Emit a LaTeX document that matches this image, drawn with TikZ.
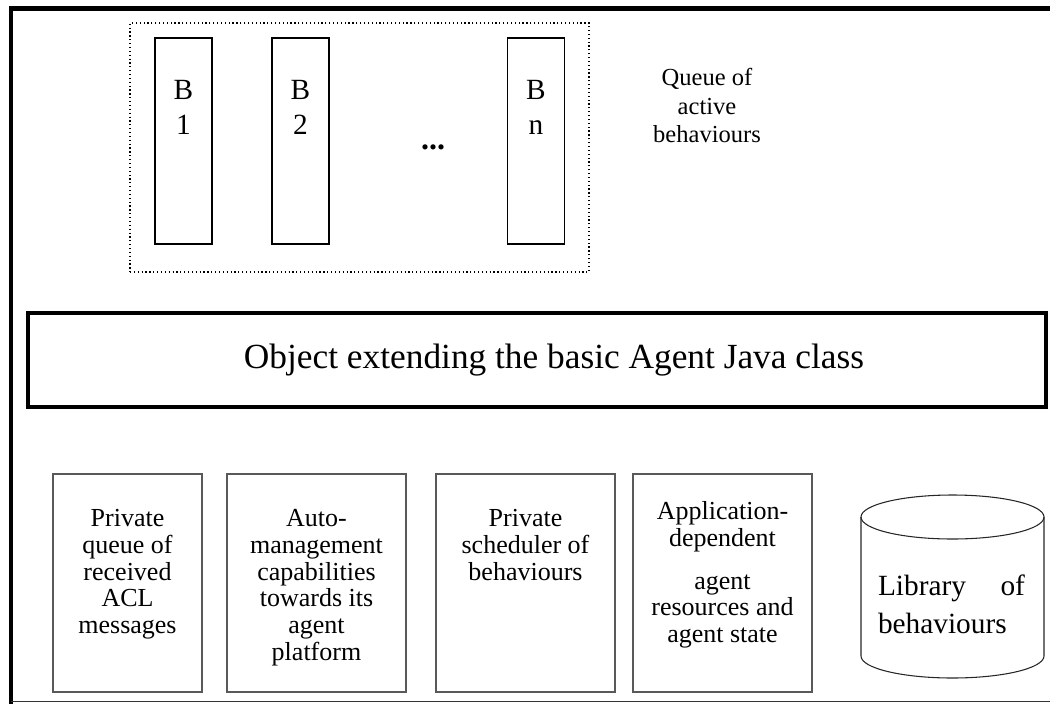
\documentclass[tikz,border=0pt]{standalone}
\usepackage{fontspec}
\setmainfont{Liberation Serif}
\usepackage{xcolor}
\usepackage{tikz}
\usetikzlibrary{positioning, shapes.geometric, calc}

\tikzset{
  behbox/.style={draw, line width=1pt, minimum width=42.75pt, minimum height=154.5pt, inner sep=0pt},
  behtext/.style={align=center, inner sep=0pt, font=\fontsize{22}{26.25}\selectfont},
  partbox/.style={draw=black!65, line width=0.8pt, minimum width=134.25pt, minimum height=163.5pt, inner sep=0pt},
  parttext/.style={align=center, inner sep=0pt, font=\fontsize{19.5}{20}\selectfont},
}

\begin{document}
\begin{tikzpicture}[x=0.75pt, y=-0.75pt]
  \useasboundingbox (0,0) rectangle (1050,704);

  \draw [line width=3.6pt] (1050,8.5) -- (11,8.5) -- (11,704);
  \draw [line width=0.8pt, color=black!80] (11,701.5) -- (1050,701.5);

  \node [draw, dotted, line width=0.9pt, minimum width=344.25pt, minimum height=186.75pt] (queue) at (359.5,147.5) {};
  \node [behbox] (b1) at (183.5,141) {};
  \node [behbox] (b2) at (300.5,141) {};
  \node [behbox] (bn) at (536,141) {};
  \node [behtext, below=32pt of b1.north] (b1text) {B\\1};
  \node [behtext, below=32pt of b2.north] (b2text) {B\\2};
  \node [behtext, below=32pt of bn.north] (bntext) {B\\n};
  \node [inner sep=0pt, font=\fontsize{24}{24}\selectfont] (dots) at (433,147) {\textbf{...}};
  \node [align=center, inner sep=0pt, anchor=north, font=\fontsize{18.4}{21.4}\selectfont] (queuelabel) at (707,68) {Queue of\\active\\behaviours};

  \node [draw, line width=3pt, minimum width=763pt, minimum height=70.5pt] (agent) at (537,360) {};
  \node [inner sep=0pt, font=\fontsize{26.5}{30}\selectfont] (agenttext) at ($(agent.center)+(17,0)$) {Object extending the basic Agent Java class};

  \node [partbox, minimum width=111.75pt] (inbox) at (127.5,583) {};
  \node [partbox] (automgmt) at (316.5,583) {};
  \node [partbox] (sched) at (525.5,583) {};
  \node [partbox] (appres) at (722.5,583) {};
  \node [parttext, below=27pt of inbox.north] (inboxtext) {Private\\queue of\\received\\ACL\\messages};
  \node [parttext, below=27pt of automgmt.north] (automgmttext) {Auto-\\management\\capabilities\\towards its\\agent\\platform};
  \node [parttext, below=27pt of sched.north] (schedtext) {Private\\scheduler of\\behaviours};
  \node [parttext, below=21pt of appres.north] (apprestext) {Application-\\dependent\\[12pt]agent\\resources and\\agent state};

  \coordinate (library) at (952.5,586);
  \draw [line width=0.8pt, color=black!85] (861,517) -- (861,656) arc [start angle=180, end angle=360, x radius=68.625pt, y radius=16.5pt] -- (1044,517);
  \draw [line width=0.8pt, color=black!85] (952.5,517) ellipse [x radius=68.625pt, y radius=16.5pt];
  \node [align=left, text width=110.25pt, inner sep=0pt, anchor=north, font=\fontsize{22}{28.5}\selectfont] (librarytext) at ($(library)+(-1,-11)$) {Library\hfill of\\behaviours};
\end{tikzpicture}
\end{document}
